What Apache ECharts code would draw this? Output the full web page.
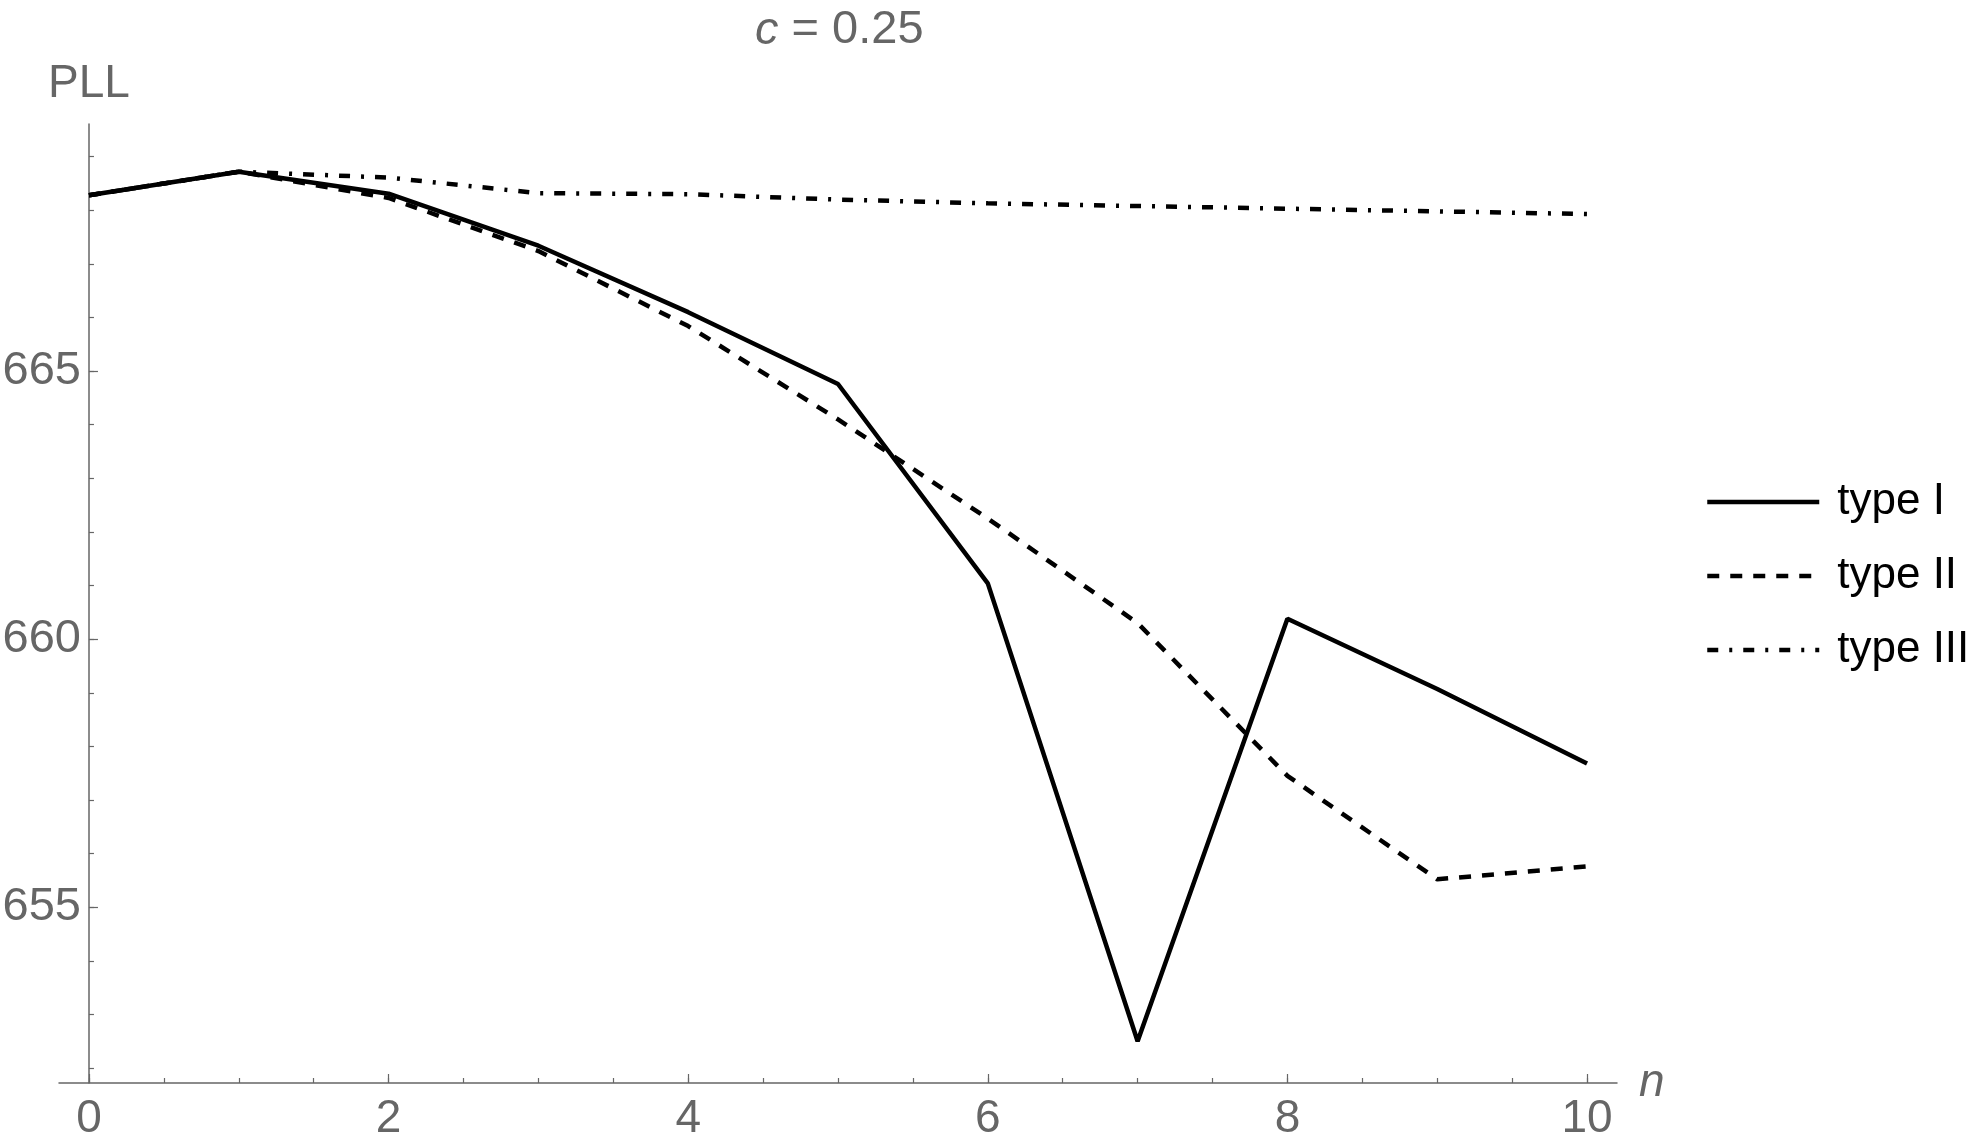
<!DOCTYPE html>
<html>
<head>
<meta charset="utf-8">
<title>PLL vs n, c = 0.25</title>
<script src="https://cdn.jsdelivr.net/npm/echarts@6/dist/echarts.min.js"></script>
<style>
  html, body { margin: 0; padding: 0; background: #fff; }
  #chart { width: 1986px; height: 1144px; }
</style>
</head>
<body>
<div id="chart"></div>
<script>
// n values on the x axis
var nValues = [0, 1, 2, 3, 4, 5, 6, 7, 8, 9, 10];
// PLL for each type
var typeI   = [668.28, 668.72, 668.31, 667.34, 666.10, 664.76, 661.04, 652.50, 660.38, 659.07, 657.68];
var typeII  = [668.28, 668.72, 668.23, 667.24, 665.84, 664.10, 662.25, 660.30, 657.45, 655.52, 655.76];
var typeIII = [668.28, 668.72, 668.61, 668.32, 668.30, 668.20, 668.13, 668.08, 668.03, 667.98, 667.93];
var seriesNames = ['type I', 'type II', 'type III'];

// tick labels and tick marks
var xLabels = [0, 2, 4, 6, 8, 10];
var xMinorTicks = [0, 0.5, 1, 1.5, 2, 2.5, 3, 3.5, 4, 4.5, 5, 5.5, 6, 6.5, 7, 7.5, 8, 8.5, 9, 9.5, 10];
var yLabels = [655, 660, 665];
var yMinorTicks = [652, 653, 654, 655, 656, 657, 658, 659, 660, 661, 662, 663, 664, 665, 666, 667, 668, 669];

var gray = '#666666';
var font = 'Liberation Sans';

function pairs(ys) {
    var out = [];
    for (var i = 0; i < nValues.length; i++) {
        out.push([nValues[i], ys[i]]);
    }
    return out;
}

var chart = echarts.init(document.getElementById('chart'));

var option = {
    animation: false,
    backgroundColor: '#fff',
    title: {
        text: '{i|c} = 0.25',
        left: 750,
        top: 2,
        textStyle: {
            fontSize: 47,
            fontWeight: 'normal',
            color: gray,
            fontFamily: font,
            rich: {
                i: { fontStyle: 'italic', fontSize: 47, color: gray, fontFamily: font }
            }
        }
    },
    grid: {
        left: 59,
        top: 124,
        width: 1558,
        height: 959,
        containLabel: false,
        outerBoundsMode: 'none'
    },
    legend: {
        orient: 'vertical',
        left: 1705,
        top: 480,
        padding: 0,
        itemWidth: 112,
        itemHeight: 20,
        itemGap: 30,
        data: seriesNames,
        itemStyle: { opacity: 0 },
        lineStyle: { width: 4.5 },
        textStyle: {
            fontSize: 44,
            lineHeight: 42,
            color: '#000',
            fontFamily: font,
            padding: [0, 0, 0, 13]
        }
    },
    xAxis: [
        {
            type: 'value',
            min: -0.2,
            max: 10.2,
            name: 'n',
            nameLocation: 'end',
            nameGap: 22,
            nameTextStyle: { fontSize: 46, fontStyle: 'italic', color: gray, fontFamily: font },
            axisLine: { show: true, onZero: false, lineStyle: { color: gray, width: 1.5 } },
            axisTick: { show: true, inside: true, length: 5, customValues: xMinorTicks, lineStyle: { color: gray, width: 1.2 } },
            axisLabel: { customValues: xLabels, fontSize: 46, color: gray, fontFamily: font, margin: 13 },
            splitLine: { show: false }
        },
        {
            type: 'value',
            min: -0.2,
            max: 10.2,
            position: 'bottom',
            axisLine: { show: false, onZero: false },
            axisTick: { show: true, inside: true, length: 9, customValues: xLabels, lineStyle: { color: gray, width: 1.2 } },
            axisLabel: { show: false },
            splitLine: { show: false }
        }
    ],
    yAxis: [
        {
            type: 'value',
            min: 651.72,
            max: 669.61,
            name: 'PLL',
            nameLocation: 'end',
            nameGap: 17,
            nameTextStyle: { fontSize: 46, color: gray, fontFamily: font },
            axisLine: { show: true, onZero: true, lineStyle: { color: gray, width: 1.5 } },
            axisTick: { show: true, inside: true, length: 5, customValues: yMinorTicks, lineStyle: { color: gray, width: 1.2 } },
            // labels sit at the grid edge, so pull them back toward the y axis at n = 0
            axisLabel: { customValues: yLabels, fontSize: 47, color: gray, fontFamily: font, margin: -22 },
            splitLine: { show: false }
        },
        {
            type: 'value',
            min: 651.72,
            max: 669.61,
            position: 'left',
            axisLine: { show: false, onZero: true },
            axisTick: { show: true, inside: true, length: 9, customValues: yLabels, lineStyle: { color: gray, width: 1.2 } },
            axisLabel: { show: false },
            splitLine: { show: false }
        }
    ],
    series: [
        {
            name: seriesNames[0],
            type: 'line',
            symbol: 'none',
            data: pairs(typeI),
            lineStyle: { color: '#000', width: 4.5, type: 'solid' },
            itemStyle: { color: '#000' }
        },
        {
            name: seriesNames[1],
            type: 'line',
            symbol: 'none',
            data: pairs(typeII),
            lineStyle: { color: '#000', width: 4.5, type: [12, 11] },
            itemStyle: { color: '#000' }
        },
        {
            name: seriesNames[2],
            type: 'line',
            symbol: 'none',
            data: pairs(typeIII),
            lineStyle: { color: '#000', width: 4.5, type: [11, 11, 3, 11] },
            itemStyle: { color: '#000' }
        }
    ]
};

chart.setOption(option);
</script>
</body>
</html>
